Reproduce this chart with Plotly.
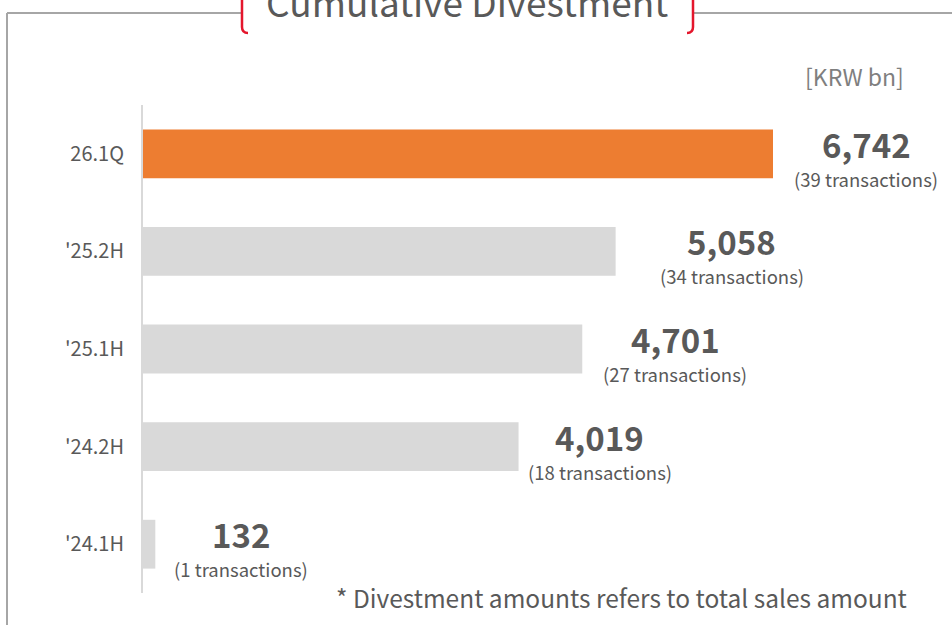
"""
Cumulative divestment bar chart (horizontal bars, KRW bn).
"""

import plotly.graph_objects as go

periods = ["26.1Q", "'25.2H", "'25.1H", "'24.2H", "'24.1H"]
amounts = [6742, 5058, 4701, 4019, 132]
transactions = [39, 34, 27, 18, 1]

W, H = 952, 625
ML, MT, MB = 143, 105, 32
PLOT_W = W - ML
PLOT_H = H - MT - MB

FONT = "Noto Sans CJK KR"
ORANGE = "#ED7D31"
LIGHT = "#D9D9D9"
TEXT = "#595959"

# horizontal pixel shift of each value label from its bar end
label_nudge = [93, 116, 93, 81, 86]


def px(x):
    return (x - ML) / PLOT_W


def py(y):
    return (MT + PLOT_H - y) / PLOT_H


colors = [ORANGE] + [LIGHT] * (len(periods) - 1)

fig = go.Figure(
    go.Bar(
        x=amounts,
        y=periods,
        orientation="h",
        width=0.5,
        marker=dict(color=colors, line=dict(width=0)),
        hoverinfo="skip",
    )
)

for p, amt, n, dx in zip(periods, amounts, transactions, label_nudge):
    fig.add_annotation(
        x=amt, y=p, text=f"<b>{amt:,}</b>", showarrow=False,
        xanchor="center", yanchor="middle", xshift=dx, yshift=10,
        font=dict(family=FONT, size=33, color=TEXT),
    )
    fig.add_annotation(
        x=amt, y=p, text=f"({n} transactions)", showarrow=False,
        xanchor="center", yanchor="middle", xshift=dx, yshift=-25,
        font=dict(family=FONT, size=18.5, color=TEXT),
    )

# title, unit and footnote
fig.add_annotation(
    xref="paper", yref="paper", x=px(467), y=py(1), text="Cumulative Divestment",
    showarrow=False, xanchor="center", yanchor="middle",
    font=dict(family=FONT, size=37, color=TEXT),
)
fig.add_annotation(
    xref="paper", yref="paper", x=px(906), y=py(76), text="[KRW bn]",
    showarrow=False, xanchor="right", yanchor="middle",
    font=dict(family=FONT, size=23, color="#7F7F7F"),
)
fig.add_annotation(
    xref="paper", yref="paper", x=px(909), y=py(597),
    text="* Divestment amounts refers to total sales amount",
    showarrow=False, xanchor="right", yanchor="middle",
    font=dict(family=FONT, size=24.5, color=TEXT),
)

# frame around the chart, broken by the title
border = dict(color="#A6A6A6", width=2)
fig.add_shape(type="line", xref="paper", yref="paper",
              x0=px(7), x1=px(241), y0=py(13), y1=py(13), line=border)
fig.add_shape(type="line", xref="paper", yref="paper",
              x0=px(694), x1=px(960), y0=py(13), y1=py(13), line=border)
fig.add_shape(type="line", xref="paper", yref="paper",
              x0=px(7), x1=px(7), y0=py(13), y1=py(640), line=border)

# red brackets around the title
red = dict(color="#E4162C", width=2.5)
fig.add_shape(
    type="path", xref="paper", yref="paper", line=red,
    path=f"M {px(242)},{py(-2)} L {px(242)},{py(27)} "
         f"Q {px(242)},{py(33)} {px(248)},{py(33)}",
)
fig.add_shape(
    type="path", xref="paper", yref="paper", line=red,
    path=f"M {px(693)},{py(-2)} L {px(693)},{py(27)} "
         f"Q {px(693)},{py(33)} {px(687)},{py(33)}",
)

fig.update_layout(
    width=W, height=H,
    margin=dict(l=ML, r=0, t=MT, b=MB),
    paper_bgcolor="white", plot_bgcolor="white",
    showlegend=False,
    font=dict(family=FONT, color=TEXT),
)
fig.update_xaxes(range=[0, 6742 * PLOT_W / 630], visible=False)
fig.update_yaxes(
    range=[4.5, -0.5], showgrid=False, zeroline=False,
    showline=True, linecolor=LIGHT, linewidth=2,
    ticks="", ticklabelstandoff=13,
    tickfont=dict(family=FONT, size=20, color=TEXT),
)

# drop the page's default body margin so the chart sits at the top-left corner
fig.write_html(
    "out.html",
    config={"displayModeBar": False},
    post_script="document.body.style.margin='0';document.body.style.overflow='hidden';",
)
